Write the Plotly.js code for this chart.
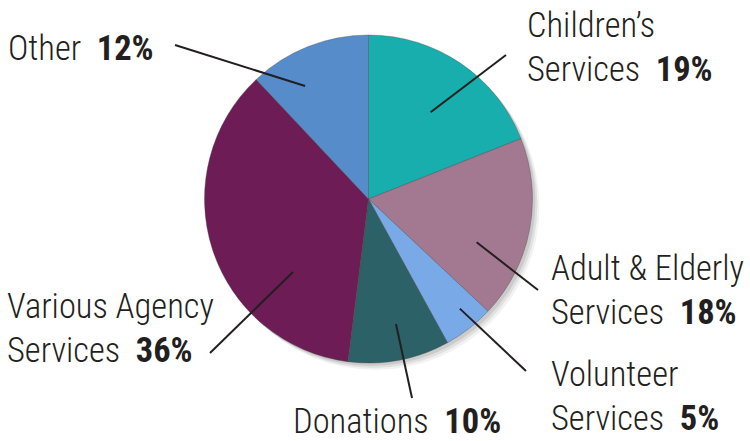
<!DOCTYPE html>
<html>
<head>
<meta charset="utf-8">
<script src="https://cdn.plot.ly/plotly-3.0.1.min.js"></script>
<style>html,body{margin:0;padding:0;background:#fff;}#chart{width:750px;height:441px;}</style>
</head>
<body>
<div id="chart"></div>
<script>
// ---- data ----
const categories = ["Children’s Services", "Adult & Elderly Services", "Volunteer Services", "Donations", "Various Agency Services", "Other"];
const values = [19, 18, 5, 10, 36, 12];
const labelLines = [["Children’s", "Services"], ["Adult & Elderly", "Services"], ["Volunteer", "Services"], ["Donations"], ["Various Agency", "Services"], ["Other"]];
const colors = ["#17AEAD", "#A37891", "#79A9E7", "#2B6167", "#6E1C55", "#558CC9"];

// ---- layout helpers (pixels) ----
const W = 750, H = 441;
const cx = 368.5, cy = 199, R = 164;
const px = x => x / W, py = y => 1 - y / H;
// label text: left x, first-line center y
const labelPos = [[525, 25], [549, 268], [549, 374], [291, 421], [5, 306], [6, 48]];
const lineGap = 44;
// leader lines: outer end (px), angle nudge (deg), radius fraction
const outerEnd = [[506, 55], [538, 290], [526, 371], [412, 398], [210, 353], [175, 45]];
const angNudge = [1.4, 11, -2, -1.6, -26, -7.7];
const rFrac = [0.65, 0.71, 0.87, 0.78, 0.64, 0.79];

const total = values.reduce((a, b) => a + b, 0);
const FONT = "'Roboto Condensed', 'DejaVu Sans Condensed', sans-serif";
const TXT = "#231F20";

const annotations = [];
const shapes = [];
// soft shadow
[[7, 0.05], [5, 0.07], [3, 0.09]].forEach(([o, a]) => {
  shapes.push({type: "circle", xref: "paper", yref: "paper", layer: "below",
    x0: px(cx - R + o), x1: px(cx + R + o), y0: py(cy + R + o), y1: py(cy - R + o),
    fillcolor: "rgba(0,0,0," + a + ")", line: {width: 0}});
});

let cum = 0;
values.forEach((v, i) => {
  const ang = (cum + v / 2) / total * 360 + angNudge[i];
  cum += v;
  const rad = ang * Math.PI / 180;
  const ix = cx + R * rFrac[i] * Math.sin(rad);
  const iy = cy - R * rFrac[i] * Math.cos(rad);
  shapes.push({type: "line", xref: "paper", yref: "paper", layer: "above",
    x0: px(ix), y0: py(iy), x1: px(outerEnd[i][0]), y1: py(outerEnd[i][1]),
    line: {color: TXT, width: 2}});
  const lines = labelLines[i];
  lines.forEach((t, k) => {
    let text = t;
    if (k === lines.length - 1) text = t + "\u00a0\u00a0<b>" + v + "%</b>";
    annotations.push({xref: "paper", yref: "paper", x: px(labelPos[i][0]), y: py(labelPos[i][1] + k * lineGap),
      xanchor: "left", yanchor: "middle", showarrow: false, text: text,
      font: {family: FONT, size: 34.5, weight: 300, color: TXT}});
  });
});

const trace = {
  type: "pie", labels: categories, values: values, sort: false, direction: "clockwise", rotation: 0,
  textinfo: "none", hoverinfo: "label+percent",
  marker: {colors: colors, line: {color: "rgba(70,70,70,0.6)", width: 0.6}},
  domain: {x: [px(cx - R), px(cx + R)], y: [py(cy + R), py(cy - R)]},
  showlegend: false
};

const layout = {
  width: W, height: H, margin: {l: 0, r: 0, t: 0, b: 0},
  paper_bgcolor: "#fff", plot_bgcolor: "#fff", showlegend: false,
  shapes: shapes, annotations: annotations
};
Plotly.newPlot("chart", [trace], layout, {displayModeBar: false, staticPlot: true});
</script>
</body>
</html>
